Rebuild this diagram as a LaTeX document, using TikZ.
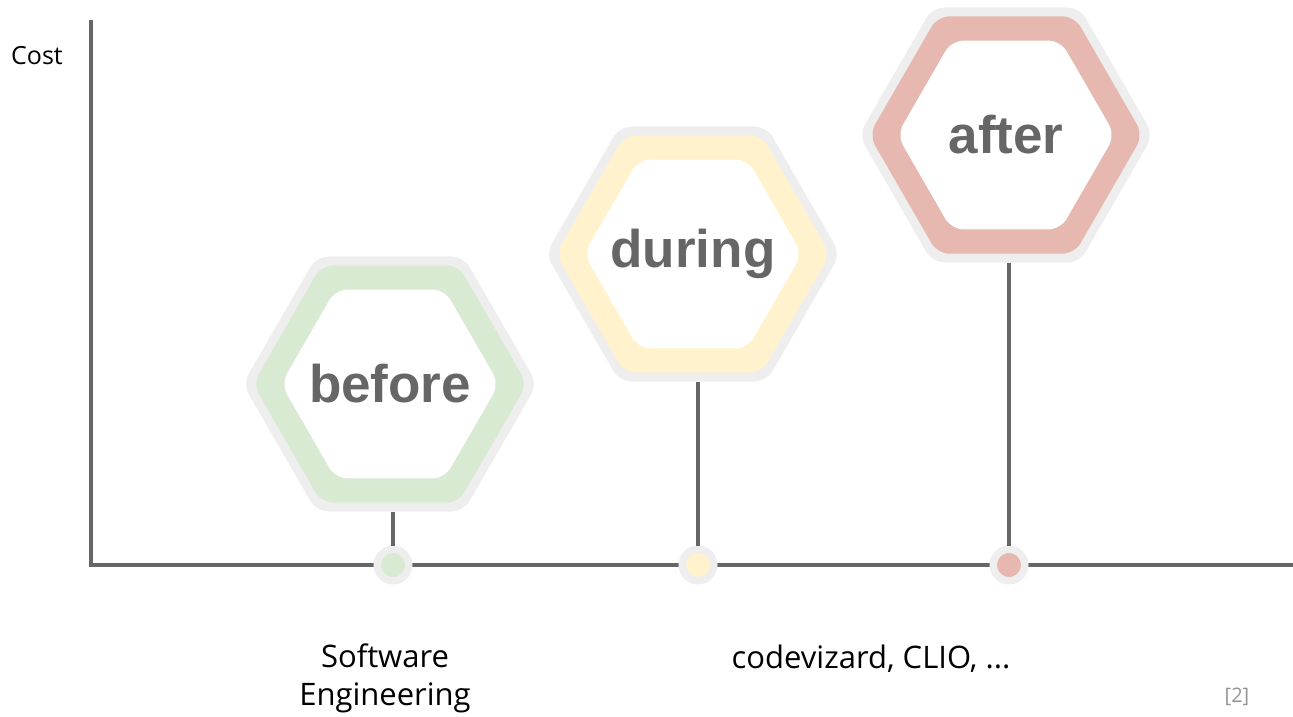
\documentclass[tikz,border=0pt]{standalone}
\usepackage{fontspec}
\setmainfont{Open Sans}
\newfontfamily\hexfont{Liberation Sans}
\usetikzlibrary{shapes.geometric}
\definecolor{axisgray}{HTML}{666666}
\definecolor{ringgray}{HTML}{EEEEEE}
\definecolor{cbefore}{HTML}{D9EAD3}
\definecolor{cduring}{HTML}{FFF2CC}
\definecolor{cafter}{HTML}{E6B8AF}
\begin{document}
\begin{tikzpicture}[x=1pt,y=-1pt,font=\fontsize{31}{38}\selectfont,
		axis/.style={draw=axisgray,line width=4pt},
		hexa/.style={regular polygon,regular polygon sides=6,inner sep=0pt,rounded corners=12pt},
		word/.style={text=axisgray,font=\hexfont\bfseries\fontsize{53}{53}\selectfont},
		dot/.style={circle,draw=ringgray,line width=7.5pt,minimum size=31.5pt,inner sep=0pt}]
	\useasboundingbox (0,0) rectangle (1293,716);
	\draw[axis] (91,20) -- (91,565) -- (1293,565);
	\node[font=\fontsize{25}{30}\selectfont] (cost) at (37,56) {Cost};
	\foreach \cx/\cy/\dx/\col/\w in {390/384/393/cbefore/before,693/254/698/cduring/during,1006/135/1009/cafter/after}{
		\node[dot,fill=\col] (d\w) at (\dx,565) {};
		\node[hexa,fill=ringgray,minimum size=294pt] (h\w) at (\cx,\cy) {};
		\draw[axis,line width=3.5pt] (d\w) -- (d\w |- h\w.south);
		\node[hexa,fill=ringgray,minimum size=294pt] at (\cx,\cy) {};
		\node[hexa,fill=\col,minimum size=274pt] at (\cx,\cy) {};
		\node[hexa,fill=white,minimum size=218pt] at (\cx,\cy) {};
		\node[word] (\w) at (\cx,\cy) {\w};
	}
	\node[align=center] (se) at (385,678) {Software\\Engineering};
	\node (tools) at (871,659) {codevizard, CLIO, ...};
	\node[text=axisgray!70,font=\fontsize{20}{20}\selectfont] (ref) at (1237,697) {[2]};
\end{tikzpicture}
\end{document}
